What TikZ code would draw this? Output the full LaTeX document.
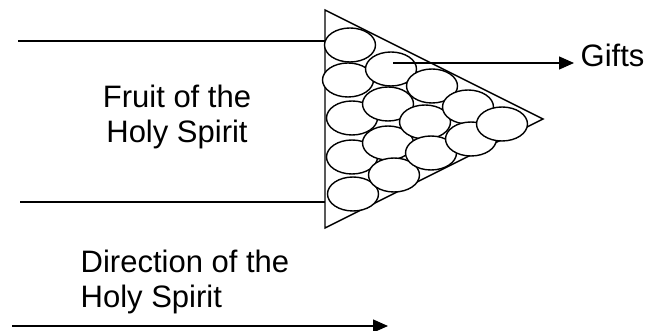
\documentclass[tikz,border=0pt]{standalone}
\usepackage{fontspec}
\setmainfont{Liberation Sans}
\usetikzlibrary{arrows.meta}
\begin{document}
\begin{tikzpicture}[x=1pt, y=-1pt, line width=1.4pt,
    ball/.style={draw, fill=white},
    arr/.style={-{Triangle[length=15pt, width=13pt]}},
    txt/.style={inner sep=0pt, font=\fontsize{31}{35.5}\selectfont}]
                \useasboundingbox (0,0) rectangle (648,331);
                \coordinate (tl) at (325,10);
                \coordinate (bl) at (325,228);
                \coordinate (tip) at (543,119);
                \draw (tl) -- (tip) -- (bl) -- cycle;
                \coordinate (ltop) at (18,41);
                \coordinate (lbot) at (20,202);
                \draw (ltop) -- (ltop -| tl);
                \draw (lbot) -- (lbot -| bl);
                \foreach \cx/\cy in {350/45, 348/80, 352/118, 352/157, 353/194,
                                     391/69, 388/104, 388/143, 394/175,
                                     432/86, 425/122, 431/153,
                                     468/107, 471/139,
                                     502/124}
                    \draw [ball] (\cx,\cy) ellipse [x radius=25.5, y radius=17];
                \node [txt, align=center] (fruit) at (177,117) {Fruit of the\\Holy Spirit};
                \node [txt, anchor=base west] (gifts) at (580,67) {Gifts};
                \coordinate (gstart) at (393,63);
                \draw [arr] (gstart) -- ([xshift=-6pt]gstart -| gifts.west);
                \node [txt, align=left, anchor=west] (direction) at (80,282) {Direction of the\\Holy Spirit};
                \coordinate (dstart) at (12,326);
                \coordinate (dend) at (388,326);
                \draw [arr] (dstart) -- (dend);
            \end{tikzpicture}
\end{document}
